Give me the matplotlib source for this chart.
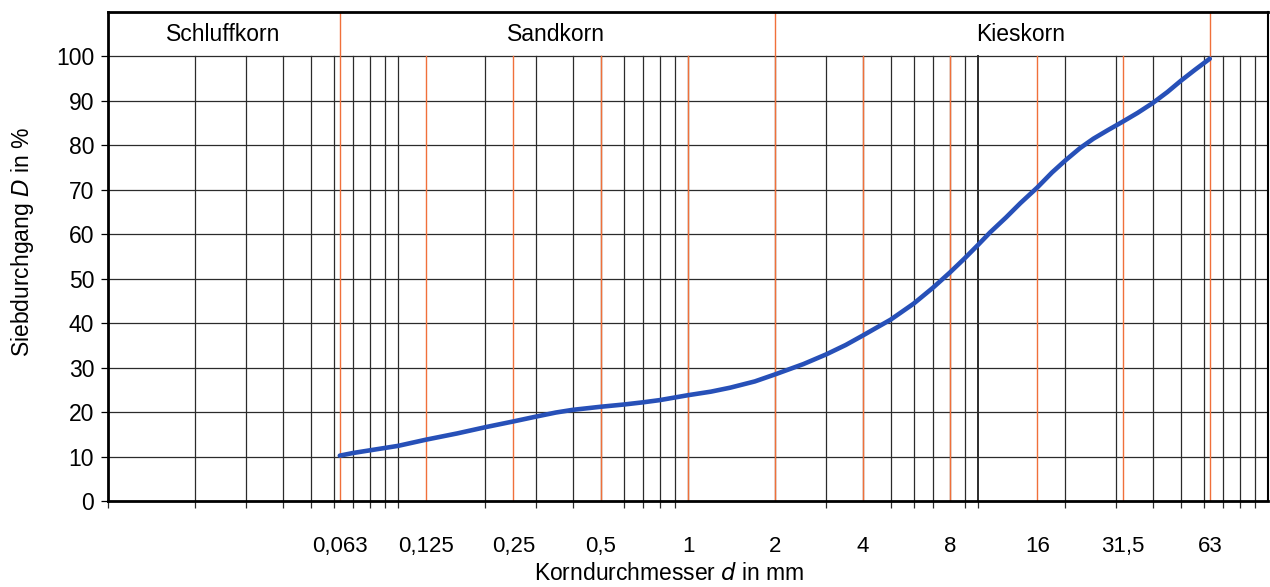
import numpy as np
import matplotlib.pyplot as plt
from matplotlib.ticker import FixedLocator, NullFormatter

plt.rcParams['font.family'] = ['Liberation Sans', 'DejaVu Sans']

# sieve sizes (mm) with labels, and the read-off grading curve
sieve_sizes = [0.063, 0.125, 0.25, 0.5, 1, 2, 4, 8, 16, 31.5, 63]
sieve_labels = ["0,063", "0,125", "0,25", "0,5", "1", "2", "4", "8", "16", "31,5", "63"]
full_height = [0.063, 2, 63]  # boundaries between the soil classes

curve_d = [0.063, 0.07, 0.08, 0.1, 0.125, 0.16, 0.2, 0.25, 0.3, 0.35, 0.4, 0.5, 0.6, 0.7,
           0.8, 1, 1.2, 1.4, 1.7, 2, 2.5, 3, 3.5, 4, 5, 6, 7, 8, 9, 10, 11, 12.5, 14,
           16, 18, 20, 22.5, 25, 28, 31.5, 35.5, 40, 45, 50, 56, 63]
curve_D = [10.2, 10.8, 11.4, 12.4, 13.8, 15.2, 16.6, 17.9, 19.0, 19.9, 20.5, 21.2, 21.7, 22.2,
           22.7, 23.8, 24.6, 25.5, 26.9, 28.5, 30.8, 33.0, 35.1, 37.2, 40.8, 44.4, 48.0,
           51.4, 54.6, 57.6, 60.4, 63.8, 67.0, 70.5, 73.9, 76.6, 79.4, 81.5, 83.4, 85.3,
           87.3, 89.5, 92.0, 94.5, 97.0, 99.5]

sections = ["Schluffkorn", "Sandkorn", "Kieskorn"]
section_x = [0.025, 0.35, 14.0]

fig = plt.figure(figsize=(12.7, 5.87), dpi=100)
ax = fig.add_axes([108 / 1270, 86 / 587, 1160 / 1270, 489 / 587])
ax.set_xscale('log')
ax.set_xlim(0.01, 100)
ax.set_ylim(0, 110)

# black log grid, only up to 100 %
grid_x = [m * 10.0 ** e for e in range(-2, 2) for m in range(1, 10)][1:]
for gx in grid_x:
    lw = 1.4 if gx == 10 else 0.9
    ax.plot([gx, gx], [0, 100], color='#2b2b2b', lw=lw, zorder=1)
for gy in range(10, 101, 10):
    ax.axhline(gy, color='#2b2b2b', lw=0.9, zorder=1)

# orange sieve lines
for s in sieve_sizes:
    top = 110 if s in full_height else 100
    ax.plot([s, s], [0, top], color='#f0703a', lw=1.0, zorder=2)

ax.plot(curve_d, curve_D, color='#2750b8', lw=3.3, solid_capstyle='round',
        solid_joinstyle='round', zorder=3)

for name, sx in zip(sections, section_x):
    ax.text(sx, 105, name, ha='center', va='center', fontsize=16.5)

ax.set_xticks(sieve_sizes)
ax.set_xticklabels(sieve_labels, fontsize=16)
ax.xaxis.set_minor_locator(FixedLocator([0.01] + grid_x))
ax.xaxis.set_minor_formatter(NullFormatter())
ax.tick_params(axis='x', which='major', length=0, pad=25)
ax.tick_params(axis='x', which='minor', length=5, width=0.9, color='#2b2b2b')
ax.set_yticks(range(0, 101, 10))
ax.tick_params(axis='y', length=5, width=0.9, labelsize=16.5, pad=5)

ax.set_xlabel("Korndurchmesser $d$ in mm", fontsize=16.5, va='center')
ax.xaxis.set_label_coords(0.484, -0.149)
ax.set_ylabel("Siebdurchgang $D$ in %", fontsize=16.5, va='center')
ax.yaxis.set_label_coords(-0.074, 0.53)

for sp in ax.spines.values():
    sp.set_linewidth(2)
ax.spines['right'].set_linewidth(1.5)

fig.savefig('out.png', dpi=100)
